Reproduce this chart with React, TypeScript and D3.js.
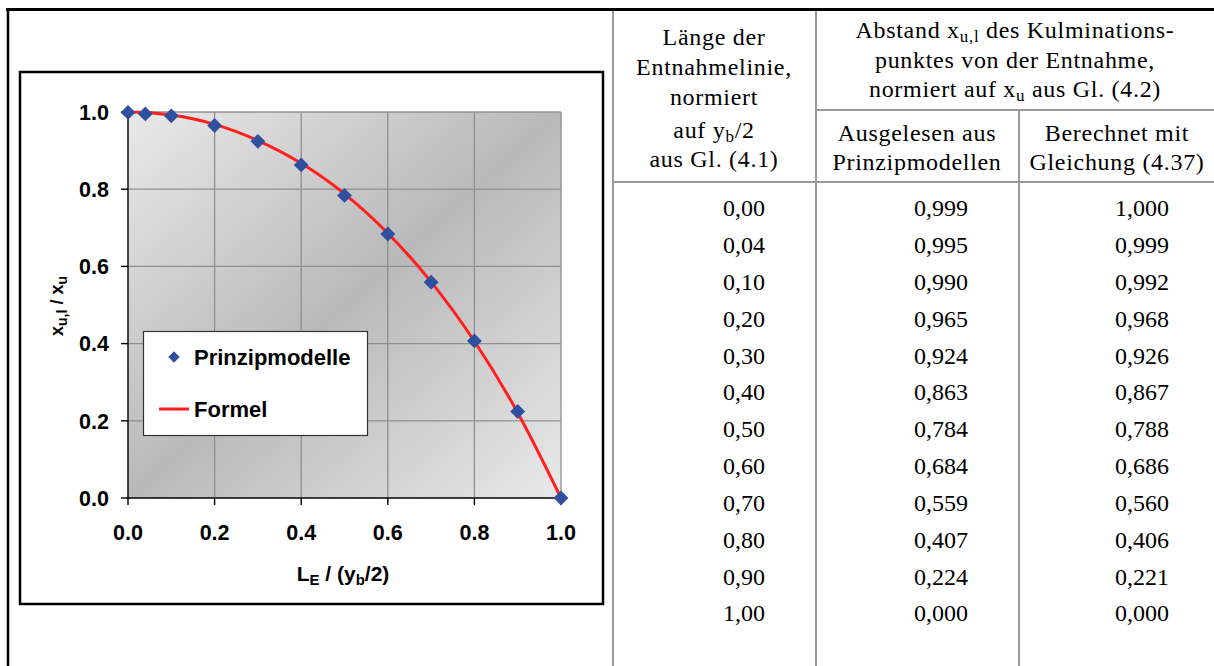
import React from "react";
import * as d3 from "d3";

const lengths = [0, 0.04, 0.1, 0.2, 0.3, 0.4, 0.5, 0.6, 0.7, 0.8, 0.9, 1.0];
const modelValues = [0.999, 0.995, 0.99, 0.965, 0.924, 0.863, 0.784, 0.684, 0.559, 0.407, 0.224, 0.0];
const formulaValues = [1.0, 0.999, 0.992, 0.968, 0.926, 0.867, 0.788, 0.686, 0.56, 0.406, 0.221, 0.0];
const axisTicks = [0, 0.2, 0.4, 0.6, 0.8, 1.0];
const legendLabels = ["Prinzipmodelle", "Formel"];

const W = 1214;
const H = 666;

const deLocale = d3.formatLocale({ decimal: ",", thousands: ".", grouping: [3], currency: ["", " €"] });
const fmt2 = deLocale.format(".2f");
const fmt3 = deLocale.format(".3f");
const fmtTick = d3.format(".1f");

const SANS = "'Liberation Sans', Arial, sans-serif";
const SERIF = "'Liberation Serif', 'Times New Roman', serif";

export default function App() {
  const x = d3.scaleLinear().domain([0, 1]).range([128, 561]);
  const y = d3.scaleLinear().domain([0, 1]).range([498, 112]);

  const modelPts = lengths.map((l, i) => [l, modelValues[i]] as [number, number]);
  const formulaPts = lengths.map((l, i) => [l, formulaValues[i]] as [number, number]);

  const line = d3
    .line<[number, number]>()
    .x((d) => x(d[0]))
    .y((d) => y(d[1]))
    .curve(d3.curveMonotoneX);

  const diamond = d3.symbol().type(d3.symbolSquare).size(110)() as string;
  const legendDiamond = d3.symbol().type(d3.symbolSquare).size(64)() as string;

  const rowY = d3.scaleLinear().domain([0, 11]).range([208, 613]);

  const gridColor = "#8f8f8f";
  const tableLine = "#9a9a9a";
  const markerColor = "#2f4f9f";
  const red = "#ff1f1f";
  const hdr = { letterSpacing: 0.7 } as React.CSSProperties;

  return (
    <div style={{ position: "absolute", left: 0, top: 0 }}>
      <svg width={W} height={H} viewBox={`0 0 ${W} ${H}`} style={{ display: "block", background: "#fff" }}>
        <defs>
          <linearGradient id="plotBg" x1="0" y1="0" x2="1" y2="1">
            <stop offset="0" stopColor="#e9e9e9" />
            <stop offset="0.5" stopColor="#b9b9b9" />
            <stop offset="1" stopColor="#e9e9e9" />
          </linearGradient>
        </defs>

        {/* outer cell borders */}
        <line x1={6} x2={W} y1={9.5} y2={9.5} stroke="#000" strokeWidth={3} />
        <line x1={8} x2={8} y1={8} y2={H} stroke="#000" strokeWidth={2.5} />

        {/* chart frame */}
        <rect x={20} y={72} width={583} height={532} fill="#fff" stroke="#000" strokeWidth={2.5} />

        {/* plot area */}
        <rect x={x(0)} y={y(1)} width={x(1) - x(0)} height={y(0) - y(1)} fill="url(#plotBg)" />
        {axisTicks.slice(1).map((t) => (
          <line key={"gx" + t} x1={x(t)} x2={x(t)} y1={y(0)} y2={y(1)} stroke={gridColor} strokeWidth={1.3} />
        ))}
        {axisTicks.slice(1).map((t) => (
          <line key={"gy" + t} x1={x(0)} x2={x(1)} y1={y(t)} y2={y(t)} stroke={gridColor} strokeWidth={1.3} />
        ))}
        {/* axes */}
        <line x1={x(0)} x2={x(0)} y1={y(1)} y2={y(0) + 0.7} stroke="#000" strokeWidth={1.4} />
        <line x1={x(0) - 0.7} x2={x(1)} y1={y(0)} y2={y(0)} stroke="#000" strokeWidth={1.4} />
        {axisTicks.map((t) => (
          <line key={"ty" + t} x1={x(0) - 7} x2={x(0)} y1={y(t)} y2={y(t)} stroke="#000" strokeWidth={1.4} />
        ))}
        {axisTicks.map((t) => (
          <line key={"tx" + t} x1={x(t)} x2={x(t)} y1={y(0)} y2={y(0) + 7} stroke="#000" strokeWidth={1.4} />
        ))}
        {axisTicks.map((t) => (
          <text
            key={"ly" + t}
            x={109}
            y={y(t)}
            dy="0.36em"
            textAnchor="end"
            fontFamily={SANS}
            fontWeight="bold"
            fontSize={21.5}
            fill="#000"
          >
            {fmtTick(t)}
          </text>
        ))}
        {axisTicks.map((t) => (
          <text
            key={"lx" + t}
            x={x(t)}
            y={532}
            dy="0.36em"
            textAnchor="middle"
            fontFamily={SANS}
            fontWeight="bold"
            fontSize={21.5}
            fill="#000"
          >
            {fmtTick(t)}
          </text>
        ))}

        {/* axis titles */}
        <text x={343} y={573} dy="0.36em" textAnchor="middle" fontFamily={SANS} fontWeight="bold" fontSize={21}>
          L<tspan fontSize={15} dy={4}>E</tspan>
          <tspan dy={-4}> / (y</tspan>
          <tspan fontSize={15} dy={4}>b</tspan>
          <tspan dy={-4}>/2)</tspan>
        </text>
        <text
          transform="translate(57,306) rotate(-90)"
          textAnchor="middle"
          dy="0.36em"
          fontFamily={SANS}
          fontWeight="bold"
          fontSize={18}
        >
          x<tspan fontSize={14} dy={4}>u,l</tspan>
          <tspan dy={-4}> / x</tspan>
          <tspan fontSize={14} dy={4}>u</tspan>
        </text>

        {/* series */}
        <path d={line(formulaPts) as string} fill="none" stroke={red} strokeWidth={3} strokeLinejoin="round" />
        {modelPts.map((p, i) => (
          <path key={"m" + i} d={diamond} transform={`translate(${x(p[0])},${y(p[1])}) rotate(45)`} fill={markerColor} />
        ))}

        {/* legend */}
        <rect x={143.5} y={331.5} width={224} height={104} fill="#fff" stroke="#333" strokeWidth={1.2} />
        <path d={legendDiamond} transform="translate(174,357) rotate(45)" fill={markerColor} />
        <text x={194} y={357} dy="0.36em" fontFamily={SANS} fontWeight="bold" fontSize={22}>
          {legendLabels[0]}
        </text>
        <line x1={159} x2={189} y1={409} y2={409} stroke={red} strokeWidth={3} />
        <text x={194} y={409} dy="0.36em" fontFamily={SANS} fontWeight="bold" fontSize={22}>
          {legendLabels[1]}
        </text>

        {/* table grid */}
        <line x1={613} x2={613} y1={11} y2={H} stroke={tableLine} strokeWidth={2} />
        <line x1={816} x2={816} y1={11} y2={H} stroke={tableLine} strokeWidth={2} />
        <line x1={1019} x2={1019} y1={110} y2={H} stroke={tableLine} strokeWidth={2} />
        <line x1={816} x2={W} y1={110} y2={110} stroke={tableLine} strokeWidth={2} />
        <line x1={613} x2={W} y1={182} y2={182} stroke={tableLine} strokeWidth={2} />

        {/* table header */}
        <g fontFamily={SERIF} fontSize={24} fill="#000" textAnchor="middle" style={hdr}>
          <text x={714} y={37} dy="0.35em">Länge der</text>
          <text x={714} y={67} dy="0.35em">Entnahmelinie,</text>
          <text x={714} y={97} dy="0.35em">normiert</text>
          <text x={714} y={130} dy="0.35em">
            auf y<tspan fontSize={17} dy={4}>b</tspan>
            <tspan dy={-4}>/2</tspan>
          </text>
          <text x={714} y={159} dy="0.35em">aus Gl. (4.1)</text>

          <text x={1015} y={30} dy="0.35em">
            Abstand x<tspan fontSize={17} dy={4}>u,l</tspan>
            <tspan dy={-4}> des Kulminations-</tspan>
          </text>
          <text x={1015} y={60} dy="0.35em">punktes von der Entnahme,</text>
          <text x={1015} y={89} dy="0.35em">
            normiert auf x<tspan fontSize={17} dy={4}>u</tspan>
            <tspan dy={-4}> aus Gl. (4.2)</tspan>
          </text>

          <text x={917} y={133} dy="0.35em">Ausgelesen aus</text>
          <text x={917} y={162} dy="0.35em">Prinzipmodellen</text>
          <text x={1117} y={133} dy="0.35em">Berechnet mit</text>
          <text x={1117} y={162} dy="0.35em">Gleichung (4.37)</text>
        </g>

        {/* table body */}
        <g fontFamily={SERIF} fontSize={24} fill="#000" textAnchor="end">
          {lengths.map((l, i) => (
            <g key={"row" + i}>
              <text x={765} y={rowY(i)} dy="0.35em">{fmt2(l)}</text>
              <text x={968} y={rowY(i)} dy="0.35em">{fmt3(modelValues[i])}</text>
              <text x={1169} y={rowY(i)} dy="0.35em">{fmt3(formulaValues[i])}</text>
            </g>
          ))}
        </g>
      </svg>
    </div>
  );
}
